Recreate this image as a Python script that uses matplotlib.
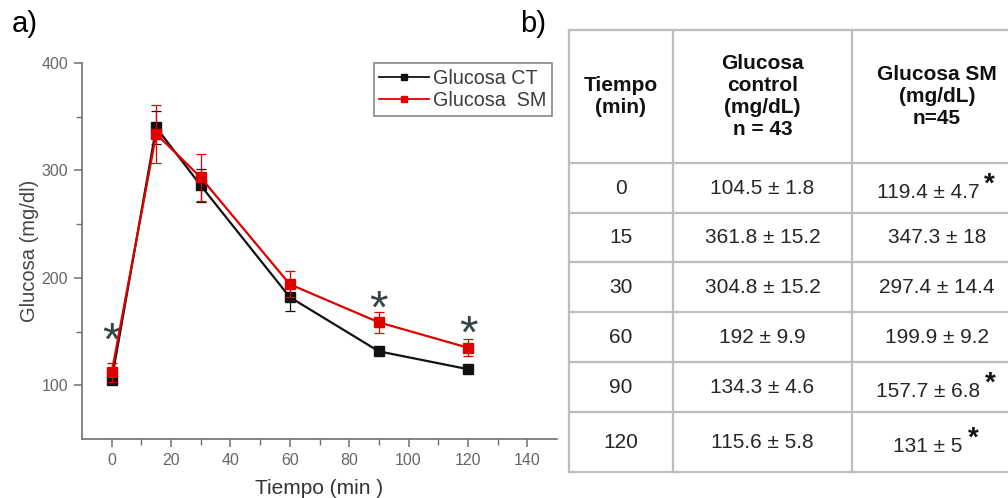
import matplotlib
matplotlib.use('Agg')
import matplotlib.pyplot as plt
from matplotlib.lines import Line2D

plt.rcParams['font.family'] = ['Liberation Sans', 'DejaVu Sans']

# curve values (mg/dl) per sampling time
tiempo = [0, 15, 30, 60, 90, 120]
glucosa_ct = [104.6, 340, 286, 182, 131.6, 115]
err_ct = [2, 15, 15, 13, 3, 4]
glucosa_sm = [112, 334, 293.5, 194, 158.6, 135]
err_sm = [9, 27, 22, 12, 9.5, 8]

# significance marks on the curve
sig_x = [0, 90, 120]
sig_y = [149, 178, 155]

# summary table
tabla_tiempo = ['0', '15', '30', '60', '90', '120']
tabla_ct = ['104.5 ± 1.8', '361.8 ± 15.2', '304.8 ± 15.2', '192 ± 9.9', '134.3 ± 4.6', '115.6 ± 5.8']
tabla_sm = ['119.4 ± 4.7', '347.3 ± 18', '297.4 ± 14.4', '199.9 ± 9.2', '157.7 ± 6.8', '131 ± 5']
tabla_sig = [True, False, False, False, True, True]
encabezados = ['Tiempo\n(min)', 'Glucosa\ncontrol\n(mg/dL)\nn = 43', 'Glucosa SM\n(mg/dL)\nn=45']

W, H = 1008, 498
fig = plt.figure(figsize=(W / 100, H / 100), dpi=100)

# ---- panel a) ----
ax = fig.add_axes([82 / W, 1 - 439 / H, 475 / W, 376 / H])
axis_grey = '#707070'
ax.errorbar(tiempo, glucosa_ct, yerr=err_ct, color='#111111', marker='s', markersize=6.5,
            linewidth=1.6, elinewidth=0.9, capsize=3.5, capthick=0.9, zorder=3)
ax.errorbar(tiempo, glucosa_sm, yerr=err_sm, color='#e00000', marker='s', markersize=6.5,
            linewidth=1.6, elinewidth=0.9, capsize=3.5, capthick=0.9, zorder=4)
# '*' glyph sits high in its box, so anchor it a bit below the mark value
for x, y in zip(sig_x, sig_y):
    ax.text(x, y - 9, '*', fontsize=34, color='#354545', ha='center', va='center')

ax.set_xlim(-10, 150)
ax.set_ylim(50, 400)
ax.set_xticks([0, 20, 40, 60, 80, 100, 120, 140])
ax.set_xticks(range(10, 150, 20), minor=True)
ax.set_yticks([100, 200, 300, 400])
ax.set_yticks([150, 250, 350], minor=True)
for s in ['top', 'right']:
    ax.spines[s].set_visible(False)
for s in ['left', 'bottom']:
    ax.spines[s].set_color(axis_grey)
    ax.spines[s].set_linewidth(1.2)
ax.tick_params(which='major', direction='out', length=6, width=1.1, color=axis_grey,
               labelsize=11.5, labelcolor='#666666', pad=4)
ax.tick_params(which='minor', direction='out', length=4, width=1.0, color=axis_grey)
ax.set_xlabel('Tiempo (min )', fontsize=15, color='#333333', labelpad=8)
ax.set_ylabel('Glucosa (mg/dl)', fontsize=14.5, color='#444444', labelpad=2)

handles = [Line2D([], [], color='#111111', marker='s', markersize=5, linewidth=1.3),
           Line2D([], [], color='#e00000', marker='s', markersize=5, linewidth=1.3)]
leg = ax.legend(handles, ['Glucosa CT', 'Glucosa  SM'], loc='upper right',
                bbox_to_anchor=(552 / W, 1 - 63 / H), bbox_transform=fig.transFigure,
                borderaxespad=0, fancybox=False, fontsize=14.2, handlelength=2.5,
                handletextpad=0.2, labelspacing=0.15, borderpad=0.3, framealpha=1)
leg.get_frame().set_edgecolor('#888888')
leg.get_frame().set_linewidth(1.2)
for t in leg.get_texts():
    t.set_color('#3c3c3c')

# ---- panel labels and table b) drawn in pixel space ----
ov = fig.add_axes([0, 0, 1, 1])
ov.set_xlim(0, W)
ov.set_ylim(H, 0)
ov.axis('off')
ov.text(12, 24, 'a)', fontsize=21, ha='left', va='center')
ov.text(520, 24, 'b)', fontsize=21, ha='left', va='center')

col_x = [569, 673, 852, 1022]
row_y = [30, 163, 213, 262, 312, 362, 412, 472]
grid_c = '#bdbdbd'
for y in row_y:
    ov.plot([col_x[0], W + 20], [y, y], color=grid_c, lw=1.6, clip_on=False)
for x in col_x[:3]:
    ov.plot([x, x], [row_y[0], row_y[-1]], color=grid_c, lw=1.6)

centros = [(col_x[i] + col_x[i + 1]) / 2 for i in range(3)]
centros[2] = 937
yh = (row_y[0] + row_y[1]) / 2
for cx, txt in zip(centros, encabezados):
    ov.text(cx, yh, txt, fontsize=15, fontweight='bold', ha='center', va='center',
            linespacing=1.2, color='#111111')

fig.canvas.draw()
inv = ov.transData.inverted()
for i in range(len(tabla_tiempo)):
    yc = (row_y[i + 1] + row_y[i + 2]) / 2
    ov.text(centros[0], yc, tabla_tiempo[i], fontsize=15, ha='center', va='center', color='#262626')
    ov.text(centros[1], yc, tabla_ct[i], fontsize=15, ha='center', va='center', color='#262626')
    if tabla_sig[i]:
        t = ov.text(centros[2] - 9, yc + 4, tabla_sm[i], fontsize=15, ha='center', va='center',
                    color='#262626')
        bb = t.get_window_extent(renderer=fig.canvas.get_renderer())
        x1, _ = inv.transform((bb.x1, bb.y1))
        ov.text(x1 + 5, yc - 3, '*', fontsize=20, fontweight='bold', ha='left', va='center',
                color='#111111')
    else:
        ov.text(centros[2], yc, tabla_sm[i], fontsize=15, ha='center', va='center', color='#262626')

fig.savefig('out.png', dpi=100)
